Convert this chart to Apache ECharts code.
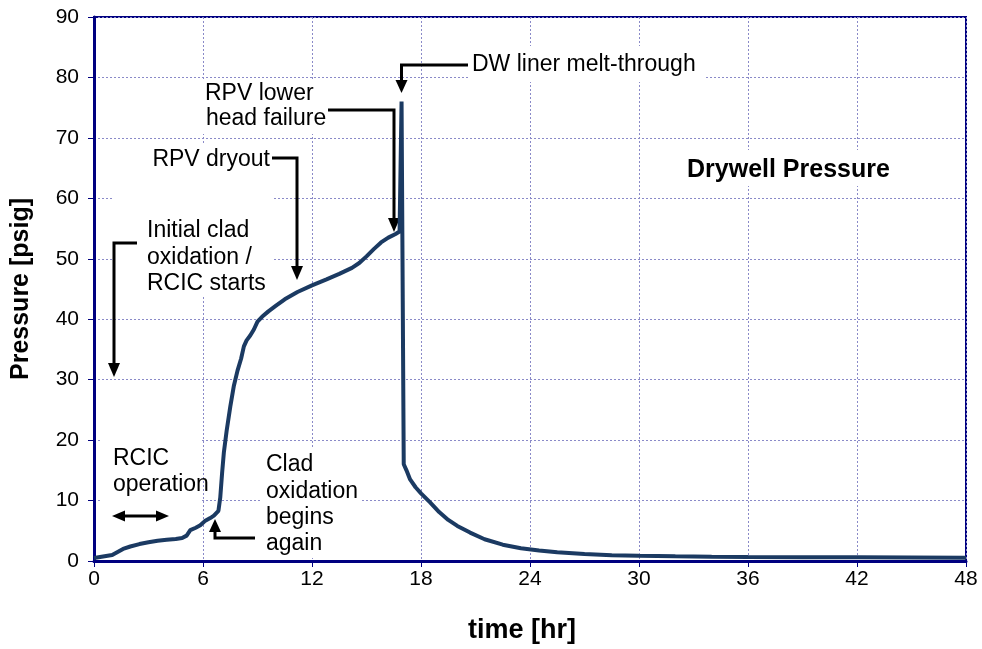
<!DOCTYPE html>
<html>
<head>
<meta charset="utf-8">
<script src="https://cdn.jsdelivr.net/npm/echarts@6/dist/echarts.min.js"></script>
<style>html,body{margin:0;padding:0;background:#fff;}#c{width:982px;height:649px;}</style>
</head>
<body>
<div id="c"></div>
<script>
// ---- data ----
var timeHr = [0, 0.1, 1.0, 1.3, 1.6, 2.0, 2.5, 3.0, 3.5, 4.0, 4.5, 4.85, 5.1, 5.3, 5.6, 5.85, 6.1, 6.4, 6.6, 6.85, 6.95, 7.05, 7.15, 7.3, 7.5, 7.7, 7.9, 8.1, 8.25, 8.4, 8.6, 8.8, 9.0, 9.25, 9.6, 10.0, 10.5, 11.2, 12.0, 12.8, 13.5, 14.2, 14.6, 15.0, 15.4, 15.8, 16.2, 16.6, 16.82, 16.93, 17.05, 17.2, 17.4, 17.7, 18.0, 18.5, 19.0, 19.5, 20.0, 20.7, 21.5, 22.5, 23.5, 24.5, 25.5, 27, 28.5, 30, 32, 34, 36, 39, 42, 45, 48];
var pressurePsig = [0.5, 0.6, 1.0, 1.5, 2.0, 2.4, 2.8, 3.1, 3.35, 3.5, 3.65, 3.8, 4.2, 5.1, 5.5, 5.9, 6.6, 7.1, 7.5, 8.3, 10.5, 14.5, 18.0, 21.5, 25.5, 29.0, 31.5, 33.5, 35.5, 36.5, 37.3, 38.3, 39.6, 40.4, 41.3, 42.2, 43.3, 44.5, 45.6, 46.6, 47.5, 48.5, 49.3, 50.4, 51.6, 52.7, 53.5, 54.1, 54.5, 76.0, 16.0, 15.0, 13.5, 12.2, 11.2, 9.7, 8.1, 6.8, 5.8, 4.7, 3.6, 2.7, 2.1, 1.75, 1.45, 1.15, 0.95, 0.85, 0.78, 0.72, 0.68, 0.63, 0.6, 0.57, 0.55];
var xTicks = [0, 6, 12, 18, 24, 30, 36, 42, 48];
var yTicks = [0, 10, 20, 30, 40, 50, 60, 70, 80, 90];
var seriesName = 'Drywell Pressure';
var xTitle = 'time [hr]';
var yTitle = 'Pressure [psig]';

var FONT = '"Liberation Sans", Arial, Helvetica, sans-serif';
var chart = echarts.init(document.getElementById('c'), null, {renderer: 'canvas'});
var points = timeHr.map(function (t, i) { return [t, pressurePsig[i]]; });

var gridLine = {show: true, lineStyle: {color: '#8a8ac8', type: [2, 2], width: 1}};
var option = {
  backgroundColor: '#fff',
  animation: false,
  grid: {left: 94, right: 16, top: 17, bottom: 87, show: true, borderColor: '#000080', borderWidth: 2},
  xAxis: {
    type: 'value', min: xTicks[0], max: xTicks[xTicks.length - 1], interval: xTicks[1] - xTicks[0],
    name: xTitle, nameLocation: 'middle', nameGap: 56,
    nameTextStyle: {fontFamily: FONT, fontWeight: 'bold', fontSize: 27, color: '#000', padding: [0, 16, 0, 0]},
    axisLine: {lineStyle: {color: '#000080', width: 3}},
    axisTick: {show: true, length: 6, lineStyle: {color: '#000080', width: 1}},
    axisLabel: {fontFamily: FONT, fontSize: 21, color: '#000', margin: 8},
    splitLine: gridLine
  },
  yAxis: {
    type: 'value', min: yTicks[0], max: yTicks[yTicks.length - 1], interval: yTicks[1] - yTicks[0],
    name: yTitle, nameLocation: 'middle', nameGap: 60, nameRotate: 90,
    nameTextStyle: {fontFamily: FONT, fontWeight: 'bold', fontSize: 25, color: '#000'},
    axisLine: {show: true, lineStyle: {color: '#000080', width: 3}},
    axisTick: {show: true, length: 6, lineStyle: {color: '#000080', width: 1}},
    axisLabel: {fontFamily: FONT, fontSize: 21, color: '#000', margin: 15},
    splitLine: gridLine
  },
  series: [{
    name: seriesName, type: 'line', data: points, showSymbol: false, symbol: 'none',
    lineStyle: {color: '#1b3a62', width: 4}, z: 20
  }]
};
chart.setOption(option);

// ---- annotations (layout in pixels) ----
var g = [];
function box(x, y, w, h) {
  g.push({type: 'rect', z: 1, shape: {x: x, y: y, width: w, height: h}, style: {fill: '#fff'}});
}
function txt(s, x, y, opts) {
  opts = opts || {};
  g.push({type: 'text', z: 12, style: {text: s, x: x, y: y, fill: '#000',
    font: (opts.bold ? 'bold ' : '') + (opts.size || 23) + 'px ' + FONT,
    textAlign: opts.align || 'left', textVerticalAlign: 'middle'}});
}
function head(tip, dir, len, w) {
  var bx = tip[0] - dir[0] * len, by = tip[1] - dir[1] * len;
  var px = -dir[1] * w / 2, py = dir[0] * w / 2;
  g.push({type: 'polygon', z: 13, shape: {points: [tip, [bx + px, by + py], [bx - px, by - py]]}, style: {fill: '#000'}});
  return [bx, by];
}
function arrow(pts, len, w) {
  var a = pts[pts.length - 2], b = pts[pts.length - 1];
  var dx = b[0] - a[0], dy = b[1] - a[1], d = Math.sqrt(dx * dx + dy * dy);
  var base = head(b, [dx / d, dy / d], len, w);
  var shaft = pts.slice(0, pts.length - 1).concat([base]);
  g.push({type: 'polyline', z: 13, shape: {points: shaft}, style: {stroke: '#000', lineWidth: 3, fill: null}});
}
function dblArrow(x1, x2, y, len, w) {
  var b1 = head([x1, y], [-1, 0], len, w);
  var b2 = head([x2, y], [1, 0], len, w);
  g.push({type: 'polyline', z: 13, shape: {points: [b1, b2]}, style: {stroke: '#000', lineWidth: 3, fill: null}});
}

// text boxes (hide grid lines behind the labels)
box(470, 46, 234, 36);
box(200, 80, 130, 54);
box(148, 144, 124, 30);
box(113, 174, 160, 123);
box(100, 440, 102, 64);
box(262, 448, 100, 110);
box(682, 150, 226, 36);

txt('DW liner melt-through', 472, 65);
txt('RPV lower', 205, 94);
txt('head failure', 206, 119);
txt('RPV dryout', 270, 160, {align: 'right'});
txt('Initial clad', 147, 231);
txt('oxidation /', 147, 258);
txt('RCIC starts', 147, 284);
txt('RCIC', 113, 459);
txt('operation', 113, 485);
txt('Clad', 266, 465);
txt('oxidation', 266, 492);
txt('begins', 266, 518);
txt('again', 266, 544);
txt(seriesName, 687, 170, {bold: true, size: 25});

arrow([[468, 65], [401.5, 65], [401.5, 93]], 13, 12);
arrow([[328, 110], [394, 110], [394, 232]], 14, 12);
arrow([[272, 158], [297, 158], [297, 280]], 14, 12);
arrow([[137, 243], [114, 243], [114, 377]], 14, 12);
arrow([[255, 538], [215, 538], [215, 519]], 13, 12);
dblArrow(112, 169, 516, 13, 11);

chart.setOption({graphic: g});
</script>
</body>
</html>
